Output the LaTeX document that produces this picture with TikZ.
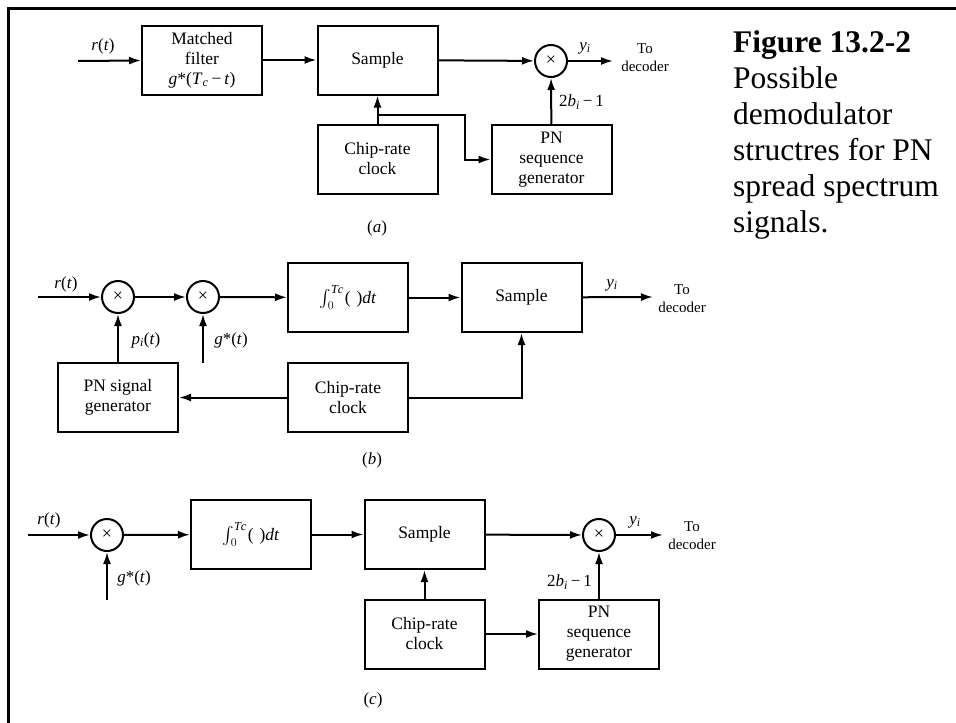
\documentclass[tikz,border=0pt]{standalone}
\usepackage{amsmath}
\usepackage{fontspec}
\setmainfont{Liberation Serif}
\usetikzlibrary{arrows.meta,calc}
\tikzset{
  blk/.style={draw,line width=2pt,minimum width=120pt,minimum height=69pt,inner sep=0pt,align=center,font=\fontsize{17.5}{20}\selectfont},
  mult/.style={draw,circle,line width=2pt,minimum size=32pt,inner sep=0pt,font=\fontsize{18}{18}\selectfont},
  arr/.style={line width=2pt,-{Latex[length=12pt,width=8pt]}},
  lbl/.style={font=\fontsize{17}{19}\selectfont,inner sep=0pt},
  dec/.style={align=center,inner sep=0pt,font=\fontsize{15}{18}\selectfont},
  capt/.style={font=\fontsize{31.5}{36}\selectfont,anchor=base west,inner sep=0pt}
}
\newcommand{\intexpr}{$\int_{0}^{\mathit{Tc}}$\kern1pt(\,\,)\textit{dt}}
\begin{document}
\begin{tikzpicture}[x=1pt,y=-1pt]
\useasboundingbox (0,0) rectangle (956,723);
\draw[line width=3pt,line join=miter] (956,8) -- (8,8) -- (8,723);
% caption
\node[capt,font=\fontsize{31.5}{36}\selectfont\bfseries] (cap1) at (733,52) {Figure 13.2-2};
\node[capt] (cap2) at (733,88) {Possible};
\node[capt] (cap3) at (733,124) {demodulator};
\node[capt] (cap4) at (733,160) {structres for PN};
\node[capt] (cap5) at (733,196) {spread spectrum};
\node[capt] (cap6) at (733,232) {signals.};
% ---------- (a)
\coordinate (ina) at (78,61);
\node[blk] (mfa) at (202,60) {Matched\\filter\\\textit{g}*(\textit{T}\textsubscript{\textit{c}}\,−\,\textit{t})};
\node[blk] (sma) at (377.5,60) {Sample};
\node[blk] (cka) at (377.5,159) {Chip-rate\\clock};
\node[mult] (mxa) at (551,61) {×};
\node[blk] (pna) at (551.5,159.5) {PN\\sequence\\generator};
\coordinate (outa) at (613,61);
\node[lbl] (ra) at (103,46) {\textit{r}(\textit{t})};
\node[lbl] (ya) at (585,48) {\textit{y}\textsubscript{\textit{i}}};
\node[dec] (da) at (645,58) {To\\decoder};
\node[lbl,anchor=west] (ba) at (559,102) {2\textit{b}\textsubscript{\textit{i}}\,−\,1};
\node[lbl] (la) at (377,228) {(\textit{a})};
\draw[arr] (ina) -- (mfa);
\draw[arr] (mfa) -- (sma);
\draw[arr] (sma) -- (mxa);
\draw[arr] (mxa) -- (outa);
\draw[arr] (pna) -- (mxa);
\draw[arr] (cka) -- (sma);
\coordinate (ja) at (377.5,115);
\coordinate (jb) at (465,115);
\draw[arr] (ja) -- (jb) |- (pna.west);
% ---------- (b)
\coordinate (inb) at (38,297);
\node[mult] (mxb1) at (118,297) {×};
\node[mult] (mxb2) at (203,297) {×};
\node[blk] (itb) at (348,297.5) {\intexpr};
\node[blk] (smb) at (521.5,297.5) {Sample};
\coordinate (outb) at (653,297);
\node[blk] (pgb) at (118,397.5) {PN signal\\generator};
\node[blk] (ckb) at (348,397.5) {Chip-rate\\clock};
\coordinate (gb) at (203,363);
\node[lbl] (rb) at (66,284) {\textit{r}(\textit{t})};
\node[lbl] (pb) at (146,340) {\textit{p}\textsubscript{\textit{i}}(\textit{t})};
\node[lbl] (gbl) at (231,340) {\textit{g}*(\textit{t})};
\node[lbl] (yb) at (612,285) {\textit{y}\textsubscript{\textit{i}}};
\node[dec] (db) at (682,299) {To\\decoder};
\node[lbl] (lb) at (372,460) {(\textit{b})};
\draw[arr] (inb) -- (mxb1);
\draw[arr] (mxb1) -- (mxb2);
\draw[arr] (mxb2) -- (itb);
\draw[arr] (itb) -- (smb);
\draw[arr] (smb) -- (outb);
\draw[arr] (pgb) -- (mxb1);
\draw[arr] (gb) -- (mxb2);
\draw[arr] (ckb) -- (pgb);
\draw[arr] (ckb.east) -| (smb.south);
% ---------- (c)
\coordinate (inc) at (28,535);
\node[mult] (mxc1) at (107,535) {×};
\coordinate (gc) at (107,600);
\node[blk] (itc) at (251,534.5) {\intexpr};
\node[blk] (smc) at (424.5,534.5) {Sample};
\node[blk] (ckc) at (424.5,634) {Chip-rate\\clock};
\node[mult] (mxc2) at (599,535) {×};
\node[blk] (pnc) at (599,634) {PN\\sequence\\generator};
\coordinate (outc) at (663,535);
\node[lbl] (rc) at (49,520) {\textit{r}(\textit{t})};
\node[lbl] (gcl) at (134,578) {\textit{g}*(\textit{t})};
\node[lbl] (yc) at (635,522) {\textit{y}\textsubscript{\textit{i}}};
\node[dec] (dc) at (692,536) {To\\decoder};
\node[lbl,anchor=east] (bc) at (592,582) {2\textit{b}\textsubscript{\textit{i}}\,−\,1};
\node[lbl] (lc) at (373,700) {(\textit{c})};
\draw[arr] (inc) -- (mxc1);
\draw[arr] (gc) -- (mxc1);
\draw[arr] (mxc1) -- (itc);
\draw[arr] (itc) -- (smc);
\draw[arr] (smc) -- (mxc2);
\draw[arr] (mxc2) -- (outc);
\draw[arr] (ckc) -- (smc);
\draw[arr] (ckc) -- (pnc);
\draw[arr] (pnc) -- (mxc2);
\end{tikzpicture}
\end{document}
